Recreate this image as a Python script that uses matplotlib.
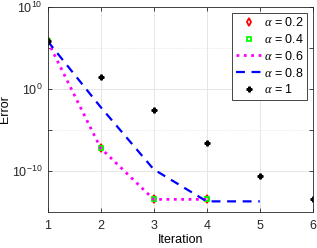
import matplotlib
matplotlib.use("Agg")
import matplotlib.pyplot as plt
import numpy as np

plt.rcParams['font.family'] = ['Liberation Sans', 'DejaVu Sans']
plt.rcParams['mathtext.fontset'] = 'custom'
plt.rcParams['mathtext.it'] = 'Liberation Serif:italic'
plt.rcParams['mathtext.rm'] = 'Liberation Sans'

iter_a = [1, 2, 3, 4]
err_02 = [7e5, 6.3e-8, 3.5e-14, 3.5e-14]
err_04 = [7e5, 6.3e-8, 3.5e-14, 3.5e-14]
err_06 = [7e5, 6.3e-8, 3.5e-14, 3.5e-14]
iter_08 = [1, 2, 3, 4, 5]
err_08 = [7e5, 6.3e-3, 1.6e-10, 2.0e-14, 2.0e-14]
iter_1 = [1, 2, 3, 4, 5, 6]
err_1 = [7e5, 29, 2.8e-3, 2.5e-7, 2.7e-11, 3.5e-14]
labels = [r'$\alpha$ = 0.2', r'$\alpha$ = 0.4', r'$\alpha$ = 0.6', r'$\alpha$ = 0.8', r'$\alpha$ = 1']

fig = plt.figure(figsize=(3.17, 2.48), dpi=100)
ax = fig.add_axes([0.15, 0.145, 0.837, 0.827])

ax.semilogy(iter_a, err_02, 'd', color='red', mfc='none', mew=1.3, ms=3.8, label=labels[0])
ax.semilogy(iter_a, err_04, 's', color='#00ff00', mfc='none', mew=1.3, ms=3.2, label=labels[1])
ax.semilogy(iter_a, err_06, ':', color='magenta', lw=2, label=labels[2])
ax.semilogy(iter_08, err_08, '--', color='blue', lw=1.6, dashes=(4, 3), label=labels[3])
ax.semilogy(iter_1, err_1, 'P', color='black', ms=3.5, ls='none', label=labels[4])

ax.set_xlim(1, 6)
ax.set_ylim(1e-15, 1e10)
ax.set_xticks([1, 2, 3, 4, 5, 6])
ax.set_yticks([1e-10, 1e0, 1e10])
ax.set_yticks([1e-5, 1e5], minor=True)
ax.yaxis.set_minor_formatter(matplotlib.ticker.NullFormatter())
ax.grid(True, which='major', color='#e6e6e6', lw=0.7)
ax.grid(True, which='minor', axis='y', color='#e0e0e0', lw=0.6, ls=':')
ax.set_axisbelow(True)
ax.tick_params(which='both', direction='in', length=3, width=0.6, colors='#262626', labelsize=9, top=True, right=True)
ax.tick_params(axis='x', pad=6)
for s in ax.spines.values():
    s.set_color('#262626')
    s.set_linewidth(0.6)
ax.set_xlabel('Iteration', fontsize=9, labelpad=1)
ax.set_ylabel('Error', fontsize=9, labelpad=1)

leg = ax.legend(loc='upper right', fontsize=9, handlelength=2.0, handletextpad=0.2,
                borderpad=0.3, labelspacing=0.3, fancybox=False, framealpha=1,
                edgecolor='#262626', borderaxespad=0.45)
leg.get_frame().set_linewidth(0.6)

fig.savefig('out.png', dpi=100)
